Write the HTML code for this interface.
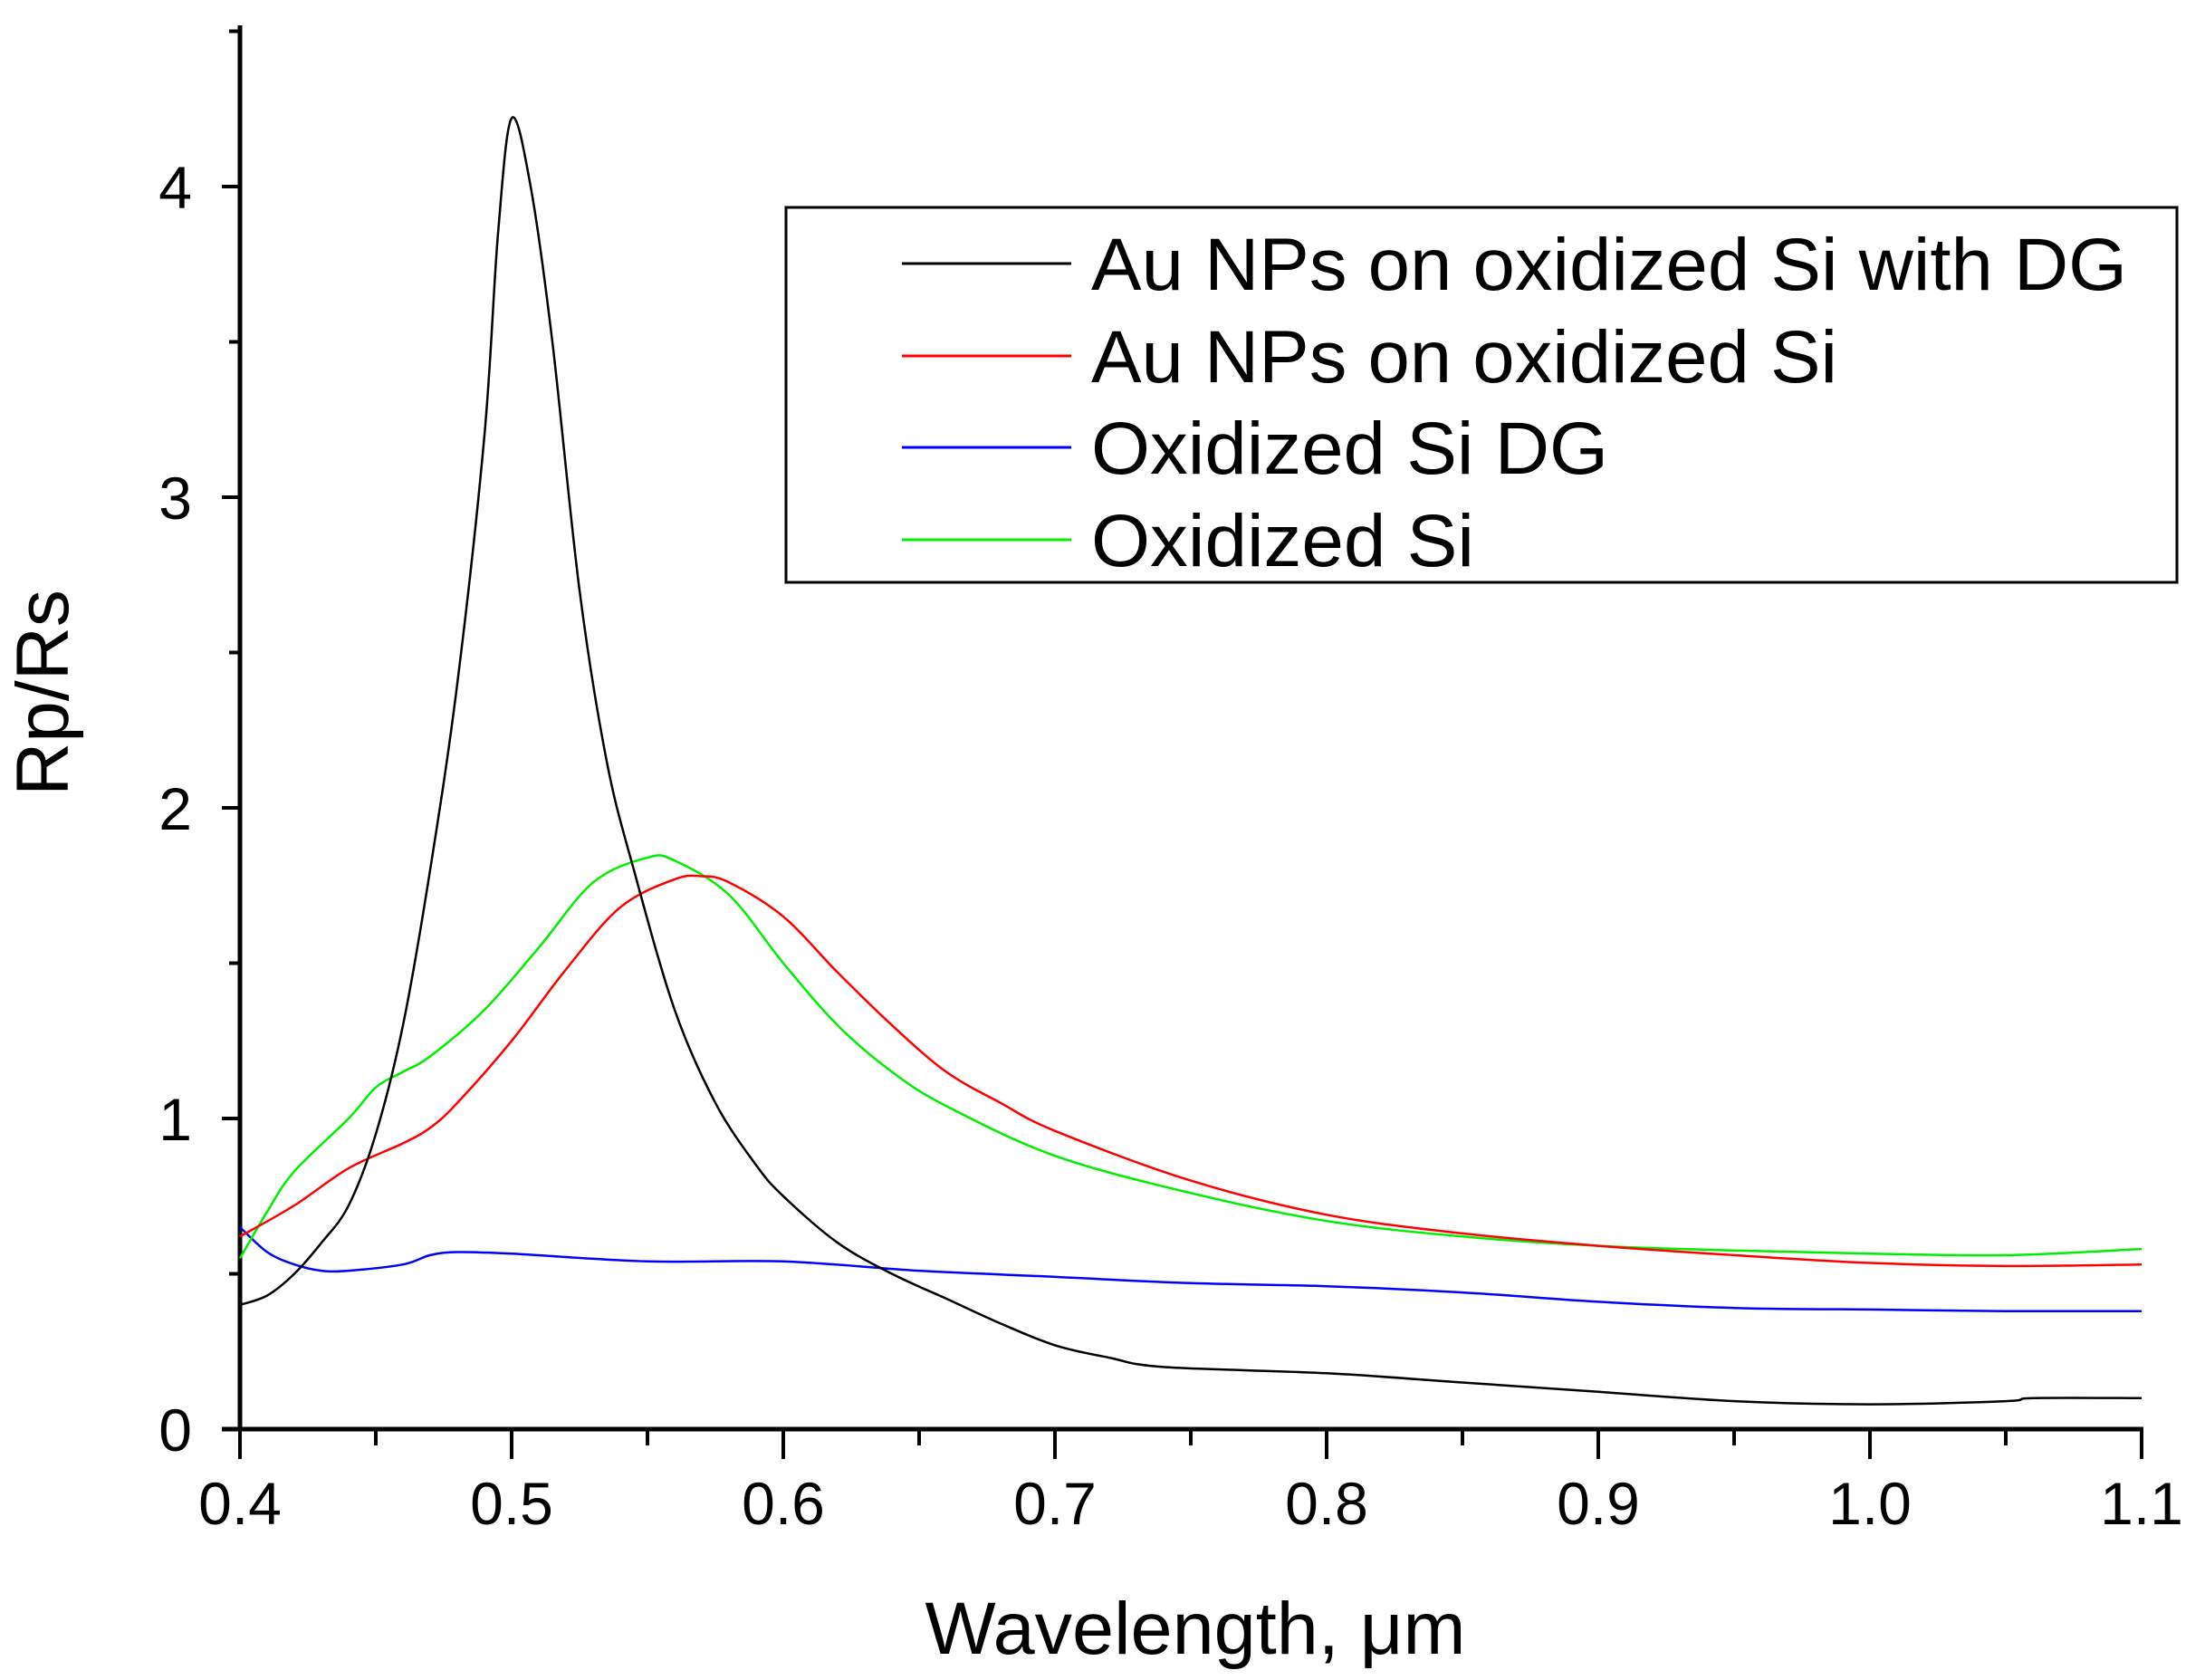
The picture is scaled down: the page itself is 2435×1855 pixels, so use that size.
<!DOCTYPE html>
<html><head><meta charset="utf-8"><style>
body{margin:0;background:#fff}
svg{display:block;font-family:"Liberation Sans",sans-serif}
</style></head><body>
<svg id="chart" width="2435" height="1855" viewBox="0 0 2435 1855" xmlns="http://www.w3.org/2000/svg">
<g id="axes"></g>
<g id="series"></g>
<g id="legend">
<rect x="868" y="229" width="1536" height="414" fill="#fff" stroke="#000" stroke-width="3"/>
<line x1="996" y1="291" x2="1183" y2="291" stroke="#000" stroke-width="3"/>
<text x="1205" y="320" font-size="82" textLength="1144" lengthAdjust="spacingAndGlyphs">Au NPs on oxidized Si with DG</text>
<line x1="996" y1="393" x2="1183" y2="393" stroke="#f00" stroke-width="3"/>
<text x="1205" y="422" font-size="82" textLength="824" lengthAdjust="spacingAndGlyphs">Au NPs on oxidized Si</text>
<line x1="996" y1="494" x2="1183" y2="494" stroke="#00f" stroke-width="3"/>
<text x="1205" y="523" font-size="82" textLength="571" lengthAdjust="spacingAndGlyphs">Oxidized Si DG</text>
<line x1="996" y1="596" x2="1183" y2="596" stroke="#0e0" stroke-width="3"/>
<text x="1205" y="625" font-size="82" textLength="423" lengthAdjust="spacingAndGlyphs">Oxidized Si</text>
</g>
<text x="1320" y="1826" font-size="82" text-anchor="middle" textLength="597" lengthAdjust="spacingAndGlyphs">Wavelength, μm</text>
<text transform="translate(75,765) rotate(-90)" font-size="82" text-anchor="middle">Rp/Rs</text>
</svg>
<script>
const xTicks=[0.4,0.5,0.6,0.7,0.8,0.9,1.0,1.1];
const xTickLabels=["0.4","0.5","0.6","0.7","0.8","0.9","1.0","1.1"];
const yTicks=[0,1,2,3,4];
const yTickLabels=["0","1","2","3","4"];
const blackX=[0.4,0.41,0.42,0.43,0.44,0.45,0.46,0.47,0.48,0.49,0.495,0.5,0.507,0.515,0.525,0.535,0.545,0.56,0.575,0.59,0.6,0.62,0.64,0.66,0.68,0.7,0.72,0.74,0.8,0.85,0.9,0.95,1.0,1.05,1.06,1.1];
const blackY=[0.4,0.43,0.5,0.6,0.72,0.95,1.3,1.8,2.4,3.2,3.85,4.22,4.0,3.5,2.7,2.15,1.8,1.35,1.05,0.85,0.75,0.6,0.5,0.42,0.34,0.27,0.23,0.2,0.18,0.15,0.12,0.09,0.08,0.09,0.1,0.1];
const redX=[0.4,0.42,0.44,0.46,0.47,0.48,0.5,0.52,0.54,0.56,0.57,0.58,0.6,0.62,0.64,0.66,0.68,0.7,0.75,0.8,0.85,0.9,0.95,1.0,1.05,1.1];
const redY=[0.62,0.72,0.84,0.92,0.97,1.05,1.25,1.48,1.68,1.77,1.78,1.76,1.65,1.47,1.3,1.15,1.05,0.96,0.8,0.69,0.63,0.59,0.56,0.535,0.525,0.53];
const greenX=[0.4,0.41,0.42,0.44,0.45,0.46,0.47,0.49,0.51,0.53,0.55,0.56,0.58,0.6,0.62,0.64,0.66,0.7,0.75,0.8,0.85,0.9,0.95,1.0,1.05,1.1];
const greenY=[0.55,0.7,0.83,1.0,1.1,1.15,1.2,1.35,1.55,1.76,1.84,1.83,1.72,1.5,1.3,1.15,1.04,0.88,0.76,0.67,0.62,0.59,0.575,0.565,0.56,0.58];
const blueX=[0.4,0.41,0.42,0.43,0.44,0.46,0.47,0.48,0.5,0.55,0.6,0.65,0.7,0.75,0.8,0.85,0.9,0.95,1.0,1.05,1.1];
const blueY=[0.65,0.57,0.53,0.51,0.51,0.53,0.56,0.57,0.565,0.54,0.54,0.51,0.49,0.47,0.46,0.44,0.41,0.39,0.385,0.38,0.38];

const NS="http://www.w3.org/2000/svg";
const X0=265,XPER=3000,Y0=1578,YPER=343;
const sx=v=>X0+(v-0.4)*XPER;
const sy=v=>Y0-v*YPER;
const axes=document.getElementById('axes');
function mk(tag,attrs,parent){const e=document.createElementNS(NS,tag);for(const k in attrs)e.setAttribute(k,attrs[k]);parent.appendChild(e);return e;}
let e=mk('line',{x1:X0,y1:28,x2:X0,y2:Y0,stroke:'#000','stroke-width':5},axes);


e=mk('line',{x1:X0-20,y1:Y0,x2:sx(1.1)+2,y2:Y0,stroke:'#000','stroke-width':5},axes);


xTicks.forEach((v,i)=>{
  let t=mk('line',{x1:sx(v),y1:Y0,x2:sx(v),y2:Y0+33,stroke:'#000','stroke-width':4},axes);
  
  
  let l=mk('text',{x:sx(v),y:1683,'font-size':66,'text-anchor':'middle'},axes);
  l.textContent=xTickLabels[i];
  
  
  if(i<xTicks.length-1){
    let m=mk('line',{x1:sx(v+0.05),y1:Y0,x2:sx(v+0.05),y2:Y0+18,stroke:'#000','stroke-width':4},axes);
    
    
  }
});
yTicks.forEach((v,i)=>{
  let t=mk('line',{x1:X0-20,y1:sy(v),x2:X0,y2:sy(v),stroke:'#000','stroke-width':4},axes);
  
  
  let l=mk('text',{x:212,y:sy(v)+24,'font-size':66,'text-anchor':'end'},axes);
  l.textContent=yTickLabels[i];
  
  
  let m=mk('line',{x1:X0-12,y1:sy(v+0.5),x2:X0,y2:sy(v+0.5),stroke:'#000','stroke-width':4},axes);
  
  
});
const ser=document.getElementById('series');
function line(xs,ys,color,name){
  const P=xs.map((x,i)=>[sx(x),sy(ys[i])]);
  let d='M'+P[0][0].toFixed(1)+','+P[0][1].toFixed(1);
  for(let i=0;i<P.length-1;i++){
    const p0=P[Math.max(0,i-1)],p1=P[i],p2=P[i+1],p3=P[Math.min(P.length-1,i+2)];
    const c1=[p1[0]+(p2[0]-p0[0])/6,p1[1]+(p2[1]-p0[1])/6];
    const c2=[p2[0]-(p3[0]-p1[0])/6,p2[1]-(p3[1]-p1[1])/6];
    d+=' C'+c1.map(n=>n.toFixed(1)).join(',')+' '+c2.map(n=>n.toFixed(1)).join(',')+' '+p2.map(n=>n.toFixed(1)).join(',');
  }
  const p=mk('path',{d:d,fill:'none',stroke:color,'stroke-width':2.5,'stroke-linejoin':'round'},ser);
  
  
}
line(blueX,blueY,'#00f','series-oxidized-si-dg');
line(greenX,greenY,'#0e0','series-oxidized-si');
line(redX,redY,'#f00','series-au-nps-oxidized-si');
line(blackX,blackY,'#000','series-au-nps-oxidized-si-dg');
</script>
</body></html>
